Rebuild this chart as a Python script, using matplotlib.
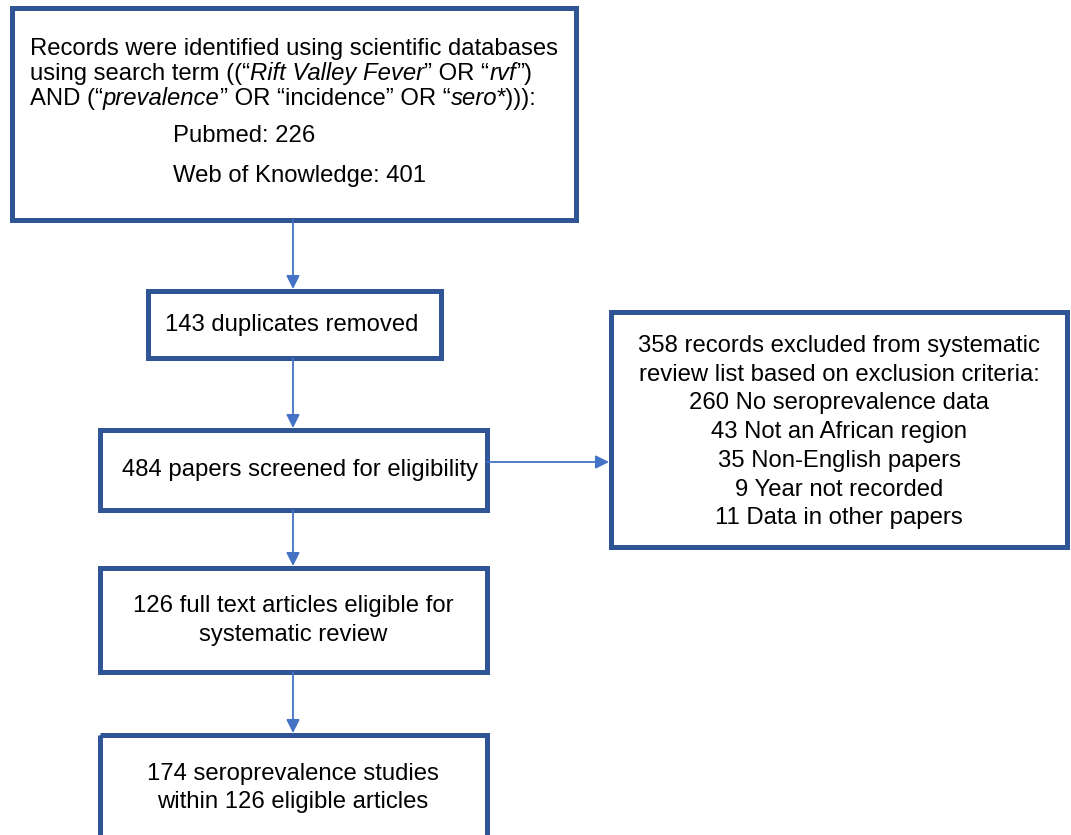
import matplotlib.pyplot as plt
from matplotlib.patches import Rectangle

plt.rcParams['font.family'] = ['Liberation Sans', 'DejaVu Sans']

# Flowchart numbers
pubmed = 226
web_of_knowledge = 401
duplicates = 143
screened = 484
eligible = 126
studies = 174
excluded_total = 358
excluded_counts = [260, 43, 35, 9, 11]
excluded_reasons = ["No seroprevalence data", "Not an African region",
                    "Non-English papers", "Year not recorded", "Data in other papers"]

BORDER = "#2F5597"
ARROW = "#4472C4"
FS = 17.2

fig = plt.figure(figsize=(10.71, 8.35), dpi=100)
ax = fig.add_axes([0, 0, 1, 1])
ax.set_xlim(0, 1071)
ax.set_ylim(835, 0)
ax.axis("off")


def box(x0, y0, x1, y1):
    ax.add_patch(Rectangle((x0, y0), x1 - x0, y1 - y0, fill=False,
                           edgecolor=BORDER, linewidth=3.6, zorder=2))


def arrow(x0, y0, x1, y1):
    ax.annotate("", xy=(x1, y1), xytext=(x0, y0),
                arrowprops=dict(arrowstyle="-|>", color=ARROW, lw=1.3,
                                mutation_scale=20, shrinkA=0, shrinkB=0))


def rich_line(x, y, parts):
    # parts: list of (text, italic) drawn one after another
    prev = None
    for txt, ital in parts:
        style = "italic" if ital else "normal"
        if prev is None:
            prev = ax.text(x, y, txt, fontsize=FS, style=style,
                           ha="left", va="center")
        else:
            prev = ax.annotate(txt, xy=(1, 0), xycoords=prev, fontsize=FS,
                               style=style, ha="left", va="bottom")


# Box 1: search
box(12, 8, 576, 220)
rich_line(30, 49, [("Records were identified using scientific databases", False)])
rich_line(30, 74, [("using search term ((\u201c", False), ("Rift Valley Fever", True),
                   ("\u201d OR \u201c", False), ("rvf", True), ("\u201d)", False)])
rich_line(30, 99, [("AND (\u201c", False), ("prevalence", True),
                   ("\u201d OR \u201cincidence\u201d OR \u201c", False),
                   ("sero", True), ("*))):", False)])
ax.text(173, 136, f"Pubmed: {pubmed}", fontsize=FS, ha="left", va="center")
ax.text(173, 176, f"Web of Knowledge: {web_of_knowledge}", fontsize=FS,
        ha="left", va="center")

# Box 2: duplicates
box(148, 291, 441, 358)
ax.text(165, 325, f"{duplicates} duplicates removed", fontsize=FS,
        ha="left", va="center")

# Box 3: screened
box(100, 430, 487, 510)
ax.text(300, 470, f"{screened} papers screened for eligibility", fontsize=FS,
        ha="center", va="center")

# Box 4: exclusions
box(611, 312, 1067, 547)
excl_lines = [f"{excluded_total} records excluded from systematic",
              "review list based on exclusion criteria:"]
excl_lines += [f"{n} {r}" for n, r in zip(excluded_counts, excluded_reasons)]
for i, line in enumerate(excl_lines):
    ax.text(839, 346 + i * 28.7, line, fontsize=FS, ha="center", va="center")

# Box 5: eligible articles
box(100, 568, 487, 672)
ax.text(293, 606, f"{eligible} full text articles eligible for", fontsize=FS,
        ha="center", va="center")
ax.text(293, 635, "systematic review", fontsize=FS, ha="center", va="center")

# Box 6: studies (runs off the bottom)
box(100, 735, 487, 860)
ax.text(293, 774, f"{studies} seroprevalence studies", fontsize=FS,
        ha="center", va="center")
ax.text(293, 802, f"within {eligible} eligible articles", fontsize=FS,
        ha="center", va="center")

# Arrows
arrow(293, 220, 293, 289)
arrow(293, 358, 293, 428)
arrow(293, 510, 293, 566)
arrow(293, 672, 293, 733)
arrow(487, 462, 609, 462)

fig.savefig("out.png", dpi=100)
